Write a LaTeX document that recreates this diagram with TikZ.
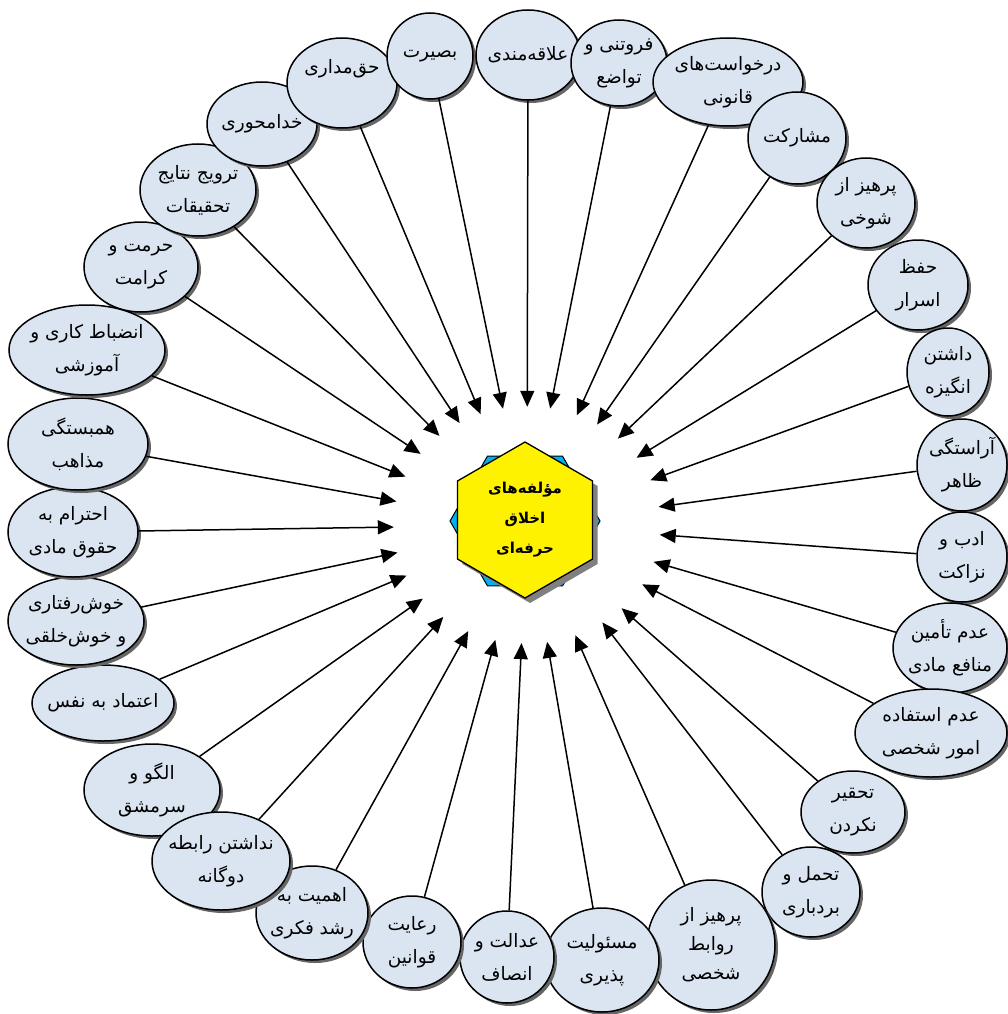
\documentclass[tikz,border=0pt]{standalone}
\usepackage{fontspec}
\usepackage{tikz}
\usetikzlibrary{arrows.meta,shapes.geometric,shadows}
\newfontfamily\farsi[Script=Arabic]{DejaVu Sans}
\TeXXeTstate=1
\newcommand\fa[1]{\beginR #1\endR}
\definecolor{ovalfill}{HTML}{DBE5F1}
\definecolor{hexblue}{HTML}{00B0F0}

\begin{document}
\begin{tikzpicture}[x=1pt,y=-1pt,font=\farsi\fontsize{18.5}{33}\selectfont,
  oval/.style={ellipse,draw,line width=1.5pt,fill=ovalfill,inner xsep=-22pt,inner ysep=-4pt,align=center,
    drop shadow={shadow xshift=3pt,shadow yshift=-3pt,fill=black!60,opacity=1}},
  spoke/.style={line width=1.5pt,-{Triangle[length=16pt,width=14pt]}}]
\useasboundingbox (0,0) rectangle (1008,1014);

\node[oval,minimum width=114pt,minimum height=90pt] (hormat) at (141,267) {\fa{حرمت و}\\\fa{کرامت}};
\node[oval,minimum width=116pt,minimum height=92pt] (tarvij) at (198,190) {\fa{ترویج نتایج}\\\fa{تحقیقات}};
\node[oval,minimum width=110pt,minimum height=84pt] (khodamehvari) at (262,124) {\fa{خدامحوری}};
\node[oval,minimum width=110pt,minimum height=90pt] (haqmadari) at (342,83) {\fa{حق‌مداری}\\~};
\node[oval,minimum width=86pt,minimum height=86pt] (basirat) at (430,56) {\fa{بصیرت}};
\node[oval,minimum width=104pt,minimum height=90pt] (alaqe) at (528,55) {\fa{علاقه‌مندی}};
\node[oval,minimum width=96pt,minimum height=86pt] (forutani) at (619,63) {\fa{فروتنی و}\\\fa{تواضع}};
\node[oval,minimum width=150pt,minimum height=88pt] (darkhast) at (728,82) {\fa{درخواست‌های}\\\fa{قانونی}};
\node[oval,minimum width=98pt,minimum height=92pt] (mosharekat) at (797,138) {\fa{مشارکت}};
\node[oval,minimum width=98pt,minimum height=90pt] (shukhi) at (866,203) {\fa{پرهیز از}\\\fa{شوخی}};
\node[oval,minimum width=100pt,minimum height=90pt] (asrar) at (918,285) {\fa{حفظ}\\\fa{اسرار}};
\node[oval,minimum width=82pt,minimum height=88pt] (angize) at (948,372) {\fa{داشتن}\\\fa{انگیزه}};
\node[oval,minimum width=90pt,minimum height=92pt] (arastegi) at (962,465) {\fa{آراستگی}\\\fa{ظاهر}};
\node[oval,minimum width=90pt,minimum height=90pt] (adab) at (962,557) {\fa{ادب و}\\\fa{نزاکت}};
\node[oval,minimum width=114pt,minimum height=90pt] (manafe) at (950,648) {\fa{عدم تأمین}\\\fa{منافع مادی}};
\node[oval,minimum width=152pt,minimum height=88pt] (estefade) at (931,733) {\fa{عدم استفاده}\\\fa{امور شخصی}};
\node[oval,minimum width=104pt,minimum height=82pt] (tahqir) at (853,812) {\fa{تحقیر}\\\fa{نکردن}};
\node[oval,minimum width=98pt,minimum height=90pt] (tahammol) at (811,892) {\fa{تحمل و}\\\fa{بردباری}};
\node[oval,minimum width=128pt,minimum height=130pt,font=\farsi\fontsize{18.5}{29}\selectfont] (ravabet) at (711,945) {\fa{پرهیز از}\\\fa{روابط}\\\fa{شخصی}};
\node[oval,minimum width=114pt,minimum height=104pt] (masuliat) at (602,960) {\fa{مسئولیت}\\\fa{پذیری}};
\node[oval,minimum width=94pt,minimum height=92pt] (edalat) at (507,957) {\fa{عدالت و}\\\fa{انصاف}};
\node[oval,minimum width=98pt,minimum height=92pt] (qavanin) at (412,942) {\fa{رعایت}\\\fa{قوانین}};
\node[oval,minimum width=112pt,minimum height=94pt] (roshd) at (312,913) {\fa{اهمیت به}\\\fa{رشد فکری}};
\node[oval,minimum width=136pt,minimum height=92pt] (olgu) at (152,790) {\fa{الگو و}\\\fa{سرمشق}};
\node[oval,minimum width=138pt,minimum height=98pt] (rabete) at (221,861) {\fa{نداشتن رابطه}\\\fa{دوگانه}};
\node[oval,minimum width=142pt,minimum height=76pt] (etemad) at (103,703) {\fa{اعتماد به نفس}};
\node[oval,minimum width=136pt,minimum height=88pt] (khoshrafter) at (76,621) {\fa{خوش‌رفتاری}\\\fa{و خوش‌خلقی}};
\node[oval,minimum width=130pt,minimum height=90pt] (hoquq) at (73,532) {\fa{احترام به}\\\fa{حقوق مادی}};
\node[oval,minimum width=140pt,minimum height=92pt] (hambastegi) at (78,444) {\fa{همبستگی}\\\fa{مذاهب}};
\node[oval,minimum width=156pt,minimum height=90pt] (enzebat) at (87,350) {\fa{انضباط کاری و}\\\fa{آموزشی}};

\node[regular polygon,regular polygon sides=6,minimum size=150pt,draw,line width=1pt,fill=hexblue] (star) at (525,521) {};
\node[regular polygon,regular polygon sides=6,shape border rotate=30,minimum size=156pt,draw,line width=1.3pt,fill=yellow,
  align=center,font=\farsi\bfseries\fontsize{15}{30}\selectfont,
  drop shadow={shadow xshift=5pt,shadow yshift=-5pt,fill=black!50,opacity=1}] (core) at (525,520)
  {\fa{مؤلفه‌های}\\\fa{اخلاق}\\\fa{حرفه‌ای}};
\node[ellipse,minimum width=266pt,minimum height=236pt,inner sep=0pt] (hub) at (527,525) {};

\foreach \n in {hormat,tarvij,khodamehvari,haqmadari,basirat,alaqe,forutani,darkhast,mosharekat,shukhi,
  asrar,angize,arastegi,adab,manafe,estefade,tahqir,tahammol,ravabet,masuliat,edalat,qavanin,roshd,
  rabete,olgu,etemad,khoshrafter,hoquq,hambastegi,enzebat}
  \draw[spoke] (\n) -- (hub);
\end{tikzpicture}
\end{document}
